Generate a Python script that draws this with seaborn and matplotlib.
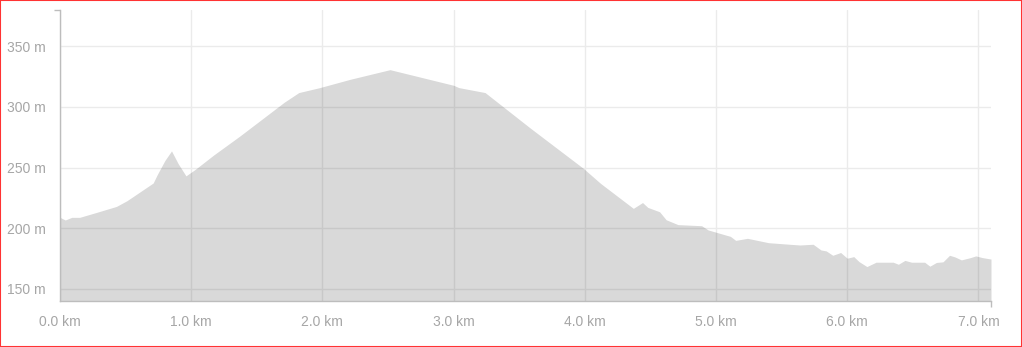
import matplotlib
matplotlib.use("Agg")
import matplotlib.pyplot as plt
import seaborn as sns
import pandas as pd
from matplotlib.patches import Rectangle

# ---- data ----
dist_km = [0.00, 0.04, 0.09, 0.15, 0.27, 0.43, 0.51, 0.61, 0.71, 0.74, 0.80, 0.85,
           0.90, 0.96, 1.03, 1.17, 1.37, 1.71, 1.82, 1.98, 2.21, 2.515, 3.00, 3.04,
           3.24, 3.38, 3.58, 3.99, 4.12, 4.37, 4.44, 4.48, 4.57, 4.62, 4.71, 4.89,
           4.94, 5.11, 5.15, 5.24, 5.40, 5.56, 5.64, 5.74, 5.80, 5.84, 5.89, 5.95,
           6.00, 6.05, 6.09, 6.15, 6.22, 6.35, 6.39, 6.44, 6.49, 6.59, 6.63, 6.68,
           6.73, 6.78, 6.82, 6.87, 6.94, 6.98, 7.03, 7.096]
elev_m = [209, 206.8, 209, 209, 212.8, 218, 222.7, 230, 237.3, 244, 256, 263.8,
          253.4, 243.2, 248.5, 260.3, 276, 304, 311.9, 316, 322.8, 330.8, 317.9, 316,
          311.9, 300, 283.0, 249.3, 237, 216.4, 221.2, 217.2, 213.6, 207, 203, 202.1,
          198.6, 193.3, 190, 191.7, 188.1, 186.8, 186.2, 186.8, 182.1, 181.3, 177.7, 180,
          175.3, 176.6, 172.5, 168.4, 172, 172, 170.3, 173.5, 172, 172, 168.7, 171.8,
          172.3, 177.7, 176.4, 173.9, 175.8, 177.2, 175.8, 174.6]
x_ticks = [0, 1, 2, 3, 4, 5, 6, 7]
x_labels = [f"{v:.1f} km" for v in x_ticks]
y_ticks = [150, 200, 250, 300, 350]
y_labels = [f"{v} m" for v in y_ticks]
y_range = (140, 380)

df = pd.DataFrame({"dist": dist_km, "elev": elev_m})

sns.set_theme(style="whitegrid")
plt.rcParams["font.family"] = ["Liberation Sans", "DejaVu Sans"]

fig = plt.figure(figsize=(10.22, 3.47), dpi=100)
ax = fig.add_axes([60 / 1022, 1 - 301 / 347, (991 - 60) / 1022, (301 - 10) / 347])

sns.lineplot(data=df, x="dist", y="elev", ax=ax, color="#d9d9d9", linewidth=0)
ax.fill_between(df["dist"], df["elev"], y_range[0], color="black", alpha=0.15,
                linewidth=0, zorder=2)

ax.set_xlim(0, dist_km[-1])
ax.set_ylim(*y_range)
ax.set_xticks(x_ticks)
ax.set_xticklabels(x_labels)
ax.set_yticks(y_ticks)
ax.set_yticklabels(y_labels)
ax.set_xlabel("")
ax.set_ylabel("")

ax.set_facecolor("white")
ax.grid(True, color="#ebebeb", linewidth=1)
ax.set_axisbelow(True)
for s in ["top", "right"]:
    ax.spines[s].set_visible(False)
for s in ["left", "bottom"]:
    ax.spines[s].set_visible(True)
    ax.spines[s].set_color("#bdbdbd")
    ax.spines[s].set_linewidth(1)

ax.tick_params(axis="both", which="major", length=0, labelsize=10,
               labelcolor="#a6a6a6")
ax.tick_params(axis="x", which="major", pad=10)
ax.tick_params(axis="y", which="major", pad=10)
ax.set_xticks([0, dist_km[-1]], minor=True)
ax.set_yticks([y_range[1]], minor=True)
ax.tick_params(axis="both", which="minor", length=4, width=1, color="#bdbdbd",
               bottom=True, left=True)
ax.grid(False, which="minor")

fig.patches.append(Rectangle((0, 0), 1, 1, transform=fig.transFigure, fill=False,
                             edgecolor="#ff3333", linewidth=1.5, zorder=10))

fig.savefig("out.png", dpi=100)
